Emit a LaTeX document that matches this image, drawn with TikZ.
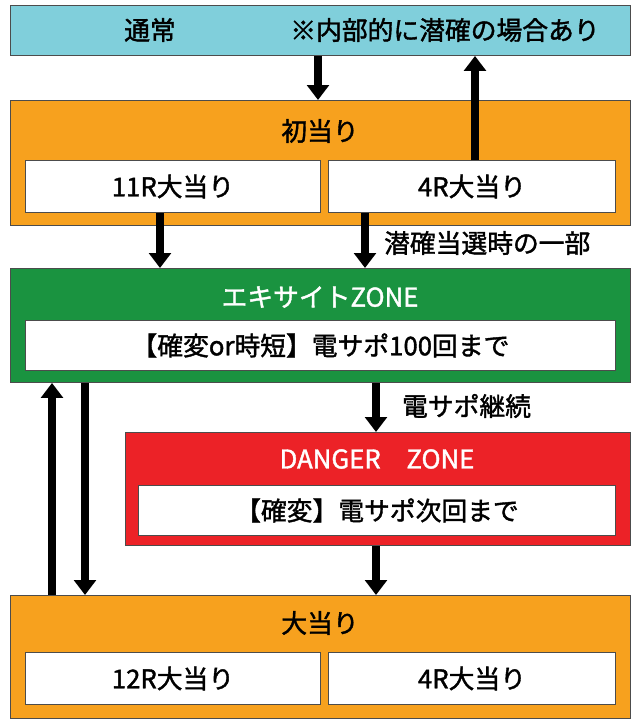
\documentclass[tikz,border=0pt]{standalone}
\usepackage{fontspec}
\setmainfont{Noto Sans CJK JP}[FakeBold=1.5,AutoFakeBold=1.5]
\usetikzlibrary{arrows.meta}
\definecolor{normalcyan}{HTML}{80CFDB}
\definecolor{hitorange}{HTML}{F7A11E}
\definecolor{zonegreen}{HTML}{1A9340}
\definecolor{dangerred}{HTML}{EC2227}
\tikzset{
  panel/.style={draw=black!70,line width=0.8pt,anchor=north west,inner sep=0pt},
  slot/.style={panel,fill=white,font=\fontsize{22}{26}\selectfont},
  label/.style={font=\fontsize{22}{26}\selectfont},
  bigarrow/.style={line width=2.5mm,-{Triangle[width=6.5mm,length=4.5mm]}}
}
\begin{document}
\begin{tikzpicture}[x=0.03cm,y=-0.03cm]
\useasboundingbox (0,0) rectangle (640,727);
% boxes
\node[panel,fill=normalcyan,minimum width=620*0.03cm,minimum height=50*0.03cm] (normal) at (10,5) {};
\node[label] (normaltxt) at (150,30) {通常};
\node[label] (normalnote) at (445,30) {※内部的に潜確の場合あり};
\node[panel,fill=hitorange,minimum width=620*0.03cm,minimum height=125*0.03cm] (first) at (10,100) {};
\node[label] (firsttxt) at (320,131) {初当り};
\node[slot,minimum width=295*0.03cm,minimum height=52*0.03cm] (first11) at (25,160) {11R大当り};
\node[slot,minimum width=287*0.03cm,minimum height=52*0.03cm] (first4) at (328,160) {4R大当り};
\node[panel,fill=zonegreen,minimum width=620*0.03cm,minimum height=114*0.03cm] (excite) at (10,268) {};
\node[label,text=white] (excitetxt) at (320,297) {エキサイトZONE};
\node[slot,minimum width=590*0.03cm,minimum height=50*0.03cm] (excitein) at (25,320) {【確変or時短】電サポ100回まで};
\node[panel,fill=dangerred,minimum width=505*0.03cm,minimum height=113*0.03cm] (danger) at (125,432) {};
\node[label,text=white] (dangertxt) at (377,459) {DANGER\quad ZONE};
\node[slot,minimum width=477*0.03cm,minimum height=50*0.03cm] (dangerin) at (138,485) {【確変】電サポ次回まで};
\node[panel,fill=hitorange,minimum width=620*0.03cm,minimum height=123*0.03cm] (big) at (10,595) {};
\node[label] (bigtxt) at (320,623) {大当り};
\node[slot,minimum width=295*0.03cm,minimum height=52*0.03cm] (big12) at (25,652) {12R大当り};
\node[slot,minimum width=287*0.03cm,minimum height=52*0.03cm] (big4) at (328,652) {4R大当り};
% arrow columns
\coordinate (c1) at (318,0);
\coordinate (c2) at (475,0);
\coordinate (c3) at (160,0);
\coordinate (c4) at (365,0);
\coordinate (c5) at (376,0);
\coordinate (c6) at (52,0);
\coordinate (c7) at (85,0);
% arrows
\draw[bigarrow] (normal.south -| c1) -- (first.north -| c1);
\draw[bigarrow] (first4.north -| c2) -- (normal.south -| c2);
\draw[bigarrow] (first11.south -| c3) -- (excite.north -| c3);
\draw[bigarrow] (first4.south -| c4) -- (excite.north -| c4);
\node[label,anchor=west] (secret) at (380,243) {潜確当選時の一部};
\draw[bigarrow] (excite.south -| c5) -- (danger.north -| c5);
\node[label,anchor=west] (keep) at (398,406) {電サポ継続};
\draw[bigarrow] (danger.south -| c5) -- (big.north -| c5);
\draw[bigarrow] (big.north -| c6) -- (excite.south -| c6);
\draw[bigarrow] (excite.south -| c7) -- (big.north -| c7);
\end{tikzpicture}
\end{document}
